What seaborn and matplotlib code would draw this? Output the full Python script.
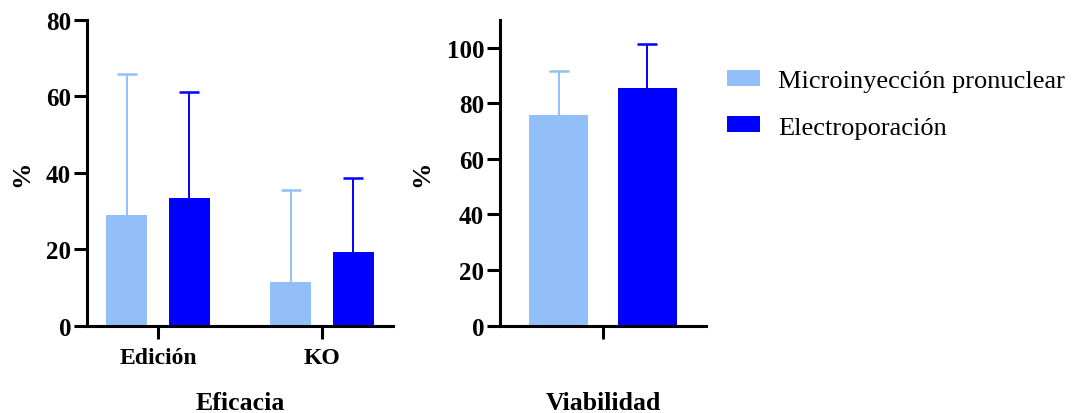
import numpy as np
import pandas as pd
import matplotlib
matplotlib.use("Agg")
import matplotlib.pyplot as plt
import seaborn as sns
from matplotlib.patches import Patch

# data (mean and upper SD)
methods = ["Microinyección pronuclear", "Electroporación"]
colors = ["#93BFF8", "#0000FF"]

efic_groups = ["Edición", "KO"]
efic_mean_micro = [28.9, 11.3]
efic_mean_elec = [33.3, 19.2]
efic_sd_micro = [37.0, 24.3]
efic_sd_elec = [27.9, 19.4]

viab_groups = ["Viabilidad"]
viab_mean_micro = [75.7]
viab_mean_elec = [85.3]
viab_sd_micro = [15.7]
viab_sd_elec = [16.0]

sns.set_style("ticks")
plt.rcParams["font.family"] = ["Liberation Serif", "DejaVu Serif"]
plt.rcParams["font.weight"] = "bold"
plt.rcParams["text.color"] = "black"
plt.rcParams["axes.labelcolor"] = "black"
plt.rcParams["xtick.color"] = "black"
plt.rcParams["ytick.color"] = "black"
plt.rcParams["axes.edgecolor"] = "black"

fig = plt.figure(figsize=(10.72, 4.14), dpi=100)
ax1 = fig.add_axes([0.0812, 0.211, 0.2854, 0.739])
ax2 = fig.add_axes([0.4664, 0.211, 0.1922, 0.739])


def make_df(groups, m1, m2):
    return pd.DataFrame({
        "group": list(groups) * 2,
        "method": [methods[0]] * len(groups) + [methods[1]] * len(groups),
        "value": list(m1) + list(m2),
    })


def draw(ax, groups, m1, m2, s1, s2, width, gap, ymax, yticks, xlabel, ylab_x):
    df = make_df(groups, m1, m2)
    sns.barplot(data=df, x="group", y="value", hue="method", order=groups,
                hue_order=methods, palette=colors, width=width, gap=gap,
                errorbar=None, linewidth=0, saturation=1, ax=ax, legend=False)
    # upper-only error bars, placed at the bar centres seaborn produced
    sds = [s1, s2]
    bar_sets = list(ax.containers)
    for j, cont in enumerate(bar_sets):
        xs = [p.get_x() + p.get_width() / 2 for p in cont.patches]
        hs = [p.get_height() for p in cont.patches]
        eb = ax.errorbar(xs, hs, yerr=[np.zeros(len(xs)), sds[j]], fmt="none",
                         ecolor=colors[j], elinewidth=1.4, capsize=7.5,
                         capthick=1.8, zorder=1)
        eb[1][0].set_visible(False)  # no cap at the bar top
    ax.set_ylim(0, ymax)
    ax.set_yticks(yticks)
    ax.set_ylabel("%", fontsize=19, fontweight="bold")
    ax.yaxis.set_label_coords(ylab_x, 0.5)
    ax.set_xlabel(xlabel, fontsize=18.5, fontweight="bold")
    ax.xaxis.set_label_coords(0.5, -0.215)
    sns.despine(ax=ax)
    for s in ["left", "bottom"]:
        ax.spines[s].set_linewidth(2.2)
    ax.tick_params(axis="both", direction="out", length=9.5, width=2.2, pad=2)
    ax.tick_params(axis="y", labelsize=18)
    ax.tick_params(axis="x", labelsize=17, pad=6)
    for lab in ax.get_xticklabels() + ax.get_yticklabels():
        lab.set_fontweight("bold")


draw(ax1, efic_groups, efic_mean_micro, efic_mean_elec, efic_sd_micro,
     efic_sd_elec, 0.76, 0.342, 80, [0, 20, 40, 60, 80], "Eficacia", -0.176)
ax1.set_xlim(-0.433, 1.433)

draw(ax2, viab_groups, viab_mean_micro, viab_mean_elec, viab_sd_micro,
     viab_sd_elec, 0.857, 0.333, 110, [0, 20, 40, 60, 80, 100], "Viabilidad", -0.325)
ax2.set_xticklabels([""])
ax2.set_xlim(-0.5, 0.5)

handles = [Patch(facecolor=c, edgecolor="none") for c in colors]
fig.legend(handles, methods, loc="upper left", bbox_to_anchor=(0.678, 0.828),
           frameon=False, borderpad=0, borderaxespad=0,
           prop={"family": "Liberation Serif", "size": 19, "weight": "normal"},
           handlelength=1.25, handleheight=0.55, handletextpad=0.68,
           labelspacing=0.9)

fig.savefig("out.png", dpi=100)
